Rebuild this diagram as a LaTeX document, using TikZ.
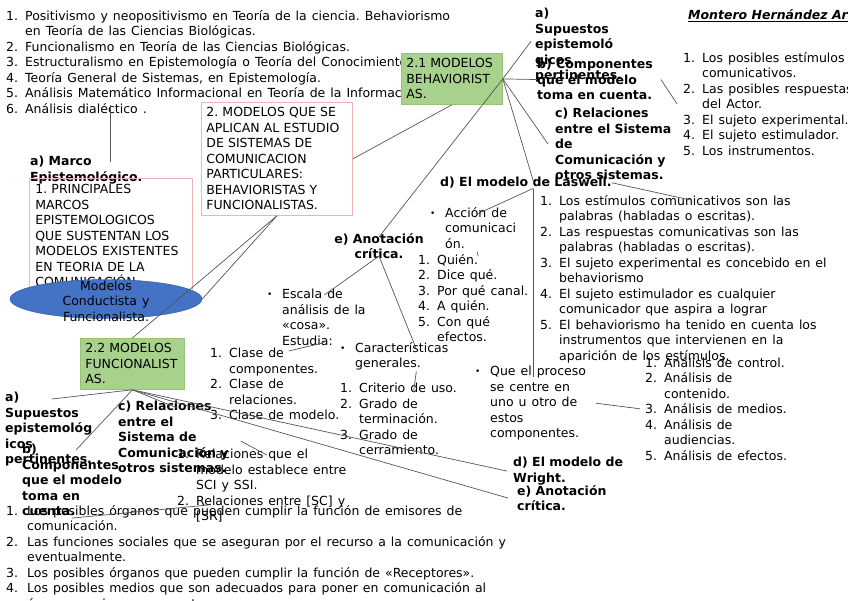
\documentclass[tikz,border=0pt]{standalone}
\usepackage{fontspec}
\setmainfont{DejaVu Sans}
\usepackage{xcolor}
\usetikzlibrary{positioning,shapes.geometric}
\frenchspacing

\definecolor{pinkline}{RGB}{238,180,180}
\definecolor{greenfill}{RGB}{169,209,142}
\definecolor{greenline}{RGB}{150,196,118}
\definecolor{ellfill}{RGB}{68,114,196}
\definecolor{ellline}{RGB}{50,88,160}
\definecolor{linkgray}{RGB}{85,85,85}

\newcommand{\mapfont}{\fontsize{12.5}{15.5}\selectfont\spaceskip=5pt plus 1pt minus 1pt\relax}
\newcommand{\headfont}{\fontsize{12.5}{15.5}\selectfont\bfseries}
\newcommand{\nr}[1]{\makebox[19pt][l]{#1}}
\newcommand{\nrgap}{\hspace*{19pt}}
\newcommand{\bul}{\makebox[15pt][l]{\raisebox{0.8pt}{\fontsize{9}{9}\selectfont\textbullet}}}
\newcommand{\bulgap}{\hspace*{15pt}}

\begin{document}
\begin{tikzpicture}[x=1pt,y=-1pt,
txt/.style={anchor=north west,inner sep=0pt,align=left,font=\mapfont},
head/.style={txt,font=\headfont},
pinkbox/.style={draw=pinkline,line width=0.8pt,anchor=north west,align=left,font=\headfont\mdseries},
greenbox/.style={draw=greenline,fill=greenfill,line width=0.8pt,anchor=north west,align=left,font=\headfont\mdseries,
 inner xsep=5pt,minimum height=51pt},
link/.style={draw=linkgray,line width=0.7pt}
]
\useasboundingbox (0,0) rectangle (848,600);

% MARCOS
\node[txt] (lst1) at (6,10)
{\nr{1.}Positivismo y neopositivismo en Teoría de la ciencia. Behaviorismo\\
\nrgap en Teoría de las Ciencias Biológicas.\\
\nr{2.}Funcionalismo en Teoría de las Ciencias Biológicas.\\
\nr{3.}Estructuralismo en Epistemología o Teoría del Conocimiento.\\
\nr{4.}Teoría General de Sistemas, en Epistemología.\\
\nr{5.}Análisis Matemático Informacional en Teoría de la Información.\\
\nr{6.}Análisis dialéctico .};

\node[head] (marco) at (30,156) {a) Marco\\Epistemológico.};

\node[pinkbox,text width=151pt,inner xsep=6pt,minimum height=116pt] (epi) at (29,177.5)
{1. PRINCIPALES\\MARCOS\\EPISTEMOLOGICOS\\QUE SUSTENTAN LOS\\MODELOS EXISTENTES\\EN TEORIA DE LA\\COMUNICACIÓN.};

\node[ellipse,draw=ellline,fill=ellfill,minimum width=192pt,minimum height=39pt,inner sep=0pt] (ell) at (106,299) {};
\node[align=center,font=\mapfont,inner sep=0pt] (elltxt) at (106,301) {Modelos\\Conductista y\\Funcionalista.};

\node[pinkbox,text width=141pt,inner xsep=5pt,minimum height=113pt] (mod2) at (201,102)
{2. MODELOS QUE SE\\APLICAN AL ESTUDIO\\DE SISTEMAS DE\\COMUNICACION\\PARTICULARES:\\BEHAVIORISTAS Y\\FUNCIONALISTAS.};

\node[head,font=\headfont\itshape] (autor) at (688,9) {\underline{Montero Hernández Ar}};

% BEHAVIORISTAS
\node[head] (sup1) at (535,8) {a)\\Supuestos\\epistemoló\\gicos\\pertinentes.};
\node[head] (comp1) at (537,59) {b) Componentes\\que el modelo\\toma en cuenta.};
\node[head] (rel1) at (555,108) {c) Relaciones\\entre el Sistema\\de\\Comunicación y\\otros sistemas.};
\node[head] (lasw) at (440,177) {d) El modelo de Laswell.};
\node[head,anchor=north,align=center] (crit1) at (379,233) {e) Anotación\\crítica.};

\node[txt] (lst2) at (683,52)
{\nr{1.}Los posibles estímulos\\
\nrgap comunicativos.\\
\nr{2.}Las posibles respuestas\\
\nrgap del Actor.\\
\nr{3.}El sujeto experimental.\\
\nr{4.}El sujeto estimulador.\\
\nr{5.}Los instrumentos.};

\node[txt] (lst3) at (540,195)
{\nr{1.}Los estímulos comunicativos son las\\
\nrgap palabras (habladas o escritas).\\
\nr{2.}Las respuestas comunicativas son las\\
\nrgap palabras (habladas o escritas).\\
\nr{3.}El sujeto experimental es concebido en el\\
\nrgap behaviorismo\\
\nr{4.}El sujeto estimulador es cualquier\\
\nrgap comunicador que aspira a lograr\\
\nr{5.}El behaviorismo ha tenido en cuenta los\\
\nrgap instrumentos que intervienen en la\\
\nrgap aparición de los estímulos.};

\node[txt] (acc) at (430,207) {\bul Acción de\\\bulgap comunicaci\\\bulgap ón.};
\node[txt] (lst4) at (418,254)
{\nr{1.}Quién.\\\nr{2.}Dice qué.\\\nr{3.}Por qué canal.\\\nr{4.}A quién.\\\nr{5.}Con qué\\\nrgap efectos.};

\node[txt] (que) at (475,366) {\bul Que el proceso\\\bulgap se centre en\\\bulgap uno u otro de\\\bulgap estos\\\bulgap componentes.};
\node[txt] (lst5) at (645,357)
{\nr{1.}Análisis de control.\\
\nr{2.}Análisis de\\
\nrgap contenido.\\
\nr{3.}Análisis de medios.\\
\nr{4.}Análisis de\\
\nrgap audiencias.\\
\nr{5.}Análisis de efectos.};

\node[txt] (esc) at (267,289) {\bul Escala de\\\bulgap análisis de la\\\bulgap «cosa».\\\bulgap Estudia:};
\node[txt] (lst6) at (210,348)
{\nr{1.}Clase de\\\nrgap componentes.\\\nr{2.}Clase de\\\nrgap relaciones.\\\nr{3.}Clase de modelo.};
\node[txt] (car) at (340,342) {\bul Características\\\bulgap generales.};
\node[txt] (lst7) at (340,383)
{\nr{1.}Criterio de uso.\\\nr{2.}Grado de\\\nrgap terminación.\\\nr{3.}Grado de\\\nrgap cerramiento.};

% FUNCIONALISTAS
\node[head] (sup2) at (5,392) {a)\\Supuestos\\epistemológ\\icos\\pertinentes.};
\node[head] (comp2) at (22,444) {b)\\Componentes\\que el modelo\\toma en\\cuenta.};
\node[head] (rel2) at (118,401) {c) Relaciones\\entre el\\Sistema de\\Comunicación y\\otros sistemas.};
\node[head] (wright) at (513,457) {d) El modelo de\\Wright.};
\node[head] (crit2) at (517,485) {e) Anotación\\crítica.};

\node[txt] (lst8) at (177,449)
{\nr{1.}Relaciones que el\\\nrgap modelo establece entre\\\nrgap SCI y SSI.\\\nr{2.}Relaciones entre [SC] y\\\nrgap [SR]};

\node[txt] (lst9) at (6,505)
{\makebox[21pt][l]{1.}Los posibles órganos que pueden cumplir la función de emisores de\\
\hspace*{21pt}comunicación.\\
\makebox[21pt][l]{2.}Las funciones sociales que se aseguran por el recurso a la comunicación y\\
\hspace*{21pt}eventualmente.\\
\makebox[21pt][l]{3.}Los posibles órganos que pueden cumplir la función de «Receptores».\\
\makebox[21pt][l]{4.}Los posibles medios que son adecuados para poner en comunicación al\\
\hspace*{21pt}órganos emisores y receptores.};

% MODELOS
\node[greenbox,text width=91pt] (b21) at (401,53) {2.1 MODELOS\\BEHAVIORIST\\AS.};
\node[greenbox,text width=94pt] (b22) at (80,338) {2.2 MODELOS\\FUNCIONALIST\\AS.};

% LINKS
\coordinate (marcoTip) at ([xshift=24,yshift=-6]marco.north);
\coordinate (lstFoot) at ([yshift=9]lst1.south);
\draw[link] (marcoTip) -- (marcoTip |- lstFoot);

\draw[link] (mod2.east) -- (b21.south);
\draw[link] (mod2.south) -- (ell.east);
\draw[link] (mod2.south) -- (b22.north);

\draw[link] (b21.east) -- ([xshift=-4,yshift=4]sup1.west);
\draw[link] (b21.east) -- (comp1.west);
\draw[link] (b21.east) -- ([xshift=-7]rel1.west);
\draw[link] (b21.east) -- ([xshift=8,yshift=-6]lasw.north);
\draw[link] (b21.east) -- ([yshift=-4]crit1.north);
\draw[link] ([xshift=8]comp1.east) -- ([xshift=-6]lst2.west);

\coordinate (laswFoot) at ([xshift=7]lasw.south);
\coordinate (queTop) at ([yshift=-11]que.north);
\draw[link] (lasw.east) -- ([xshift=7,yshift=-5]lst3.north);
\draw[link] (laswFoot) -- ([xshift=4,yshift=-7]acc.north);
\draw[link] (laswFoot) -- (laswFoot |- queTop);
\draw[link] ([xshift=4,yshift=-3]acc.south) -- ([xshift=5,yshift=-2]lst4.north);
\draw[link] ([xshift=10]que.east) -- ([xshift=-5]lst5.west);

\draw[link] ([yshift=3]crit1.south) -- ([xshift=8,yshift=-6]esc.north);
\draw[link] ([yshift=3]crit1.south) -- ([xshift=22,yshift=-7]car.north);
\draw[link] ([xshift=14,yshift=-3]lst6.north) -- ([xshift=8,yshift=3]esc.south);
\draw[link] ([xshift=22,yshift=-1]car.south) -- ([xshift=15,yshift=-9]lst7.north);

\draw[link] (b22.south) -- ([xshift=3,yshift=-7]sup2.north);
\draw[link] (b22.south) -- ([xshift=4,yshift=-6]comp2.north);
\draw[link] (b22.south) -- ([xshift=4,yshift=-7]rel2.north);
\draw[link] (b22.south) -- ([xshift=-6]wright.west);
\draw[link] (b22.south) -- ([xshift=-9]crit2.west);
\draw[link] ([xshift=12,yshift=-4]rel2.east) -- ([xshift=5,yshift=-6]lst8.north);
\draw[link] ([yshift=-2]comp2.south) -- ([xshift=-48]lst9.north);

\end{tikzpicture}
\end{document}
